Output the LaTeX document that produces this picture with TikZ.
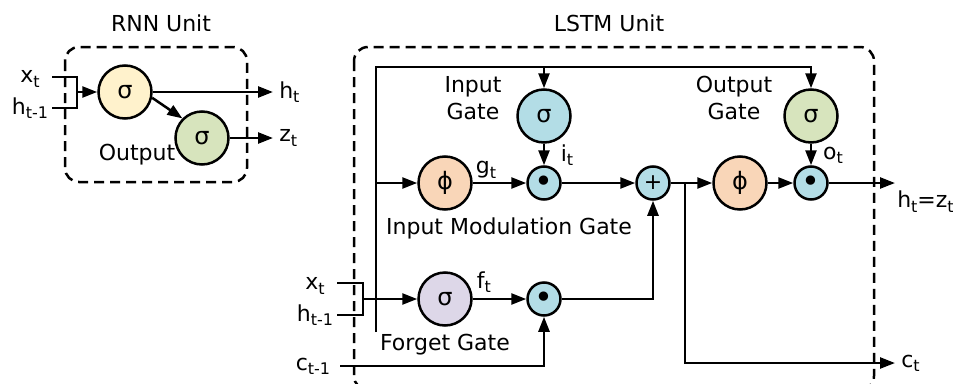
\documentclass[tikz,border=0pt]{standalone}
\usepackage{fontspec}
\setmainfont{DejaVu Sans}
\usetikzlibrary{arrows.meta, positioning}
\definecolor{SigYellow}{HTML}{FFF2CC}
\definecolor{SigGreen}{HTML}{D7E4BD}
\definecolor{GateBlue}{HTML}{B3DDE6}
\definecolor{PhiOrange}{HTML}{F9D6B8}
\definecolor{SigPurple}{HTML}{DDD7E8}
\newcommand{\lowsub}[1]{\raisebox{-0.35ex}{\fontsize{16}{16}\selectfont #1}}

\begin{document}
\begin{tikzpicture}[x=1pt, y=-1pt, line width=2.5pt,
    font=\fontsize{22}{27}\selectfont,
    bigcirc/.style={circle, draw, minimum size=53pt, inner sep=0pt, font=\fontsize{24}{24}\selectfont},
    opcirc/.style={circle, draw, fill=GateBlue, minimum size=33pt, inner sep=0pt},
    dotop/.style={opcirc, font=\fontsize{32}{32}\selectfont, text height=19.5pt, text depth=-9pt},
    unitbox/.style={draw, dash pattern=on 10pt off 6pt, rounded corners=14pt},
    arr/.style={-{Triangle[length=15pt,width=11pt]}},
    lbl/.style={inner sep=0pt, align=center}]
    \useasboundingbox (0,0) rectangle (953,383);

    % RNN unit
    \node[lbl] (rnnt) at (161,23) {RNN Unit};
    \draw[unitbox] (65,47) rectangle (247,182);
    \node[bigcirc, fill=SigYellow] (rs) at (125,92) {σ};
    \node[bigcirc, fill=SigGreen] (ro) at (202,138) {σ};
    \node[lbl] (rx) at (30,79) {x\lowsub{t}};
    \node[lbl] (rh) at (30,108) {h\lowsub{t-1}};
    \node[lbl] (rout) at (137,155) {Output};
    \coordinate (rxa) at (52,77);
    \coordinate (rha) at (52,108);
    \coordinate (rin) at (77,92);
    \coordinate (rht) at (273,92);
    \coordinate (rzt) at (273,138);
    \node[lbl, right=5pt of rht] (rhl) {h\lowsub{t}};
    \node[lbl, right=5pt of rzt] (rzl) {z\lowsub{t}};
    \draw (rxa) -| (rin) |- (rha);
    \draw[arr] (rin) -- (rs);
    \draw[arr] (rs) -- (rht);
    \draw[arr] (rs.-12) -- (ro.135);
    \draw[arr] (ro) -- (rzt);

    % LSTM unit
    \node[lbl] (lstmt) at (609,23) {LSTM Unit};
    \draw[unitbox] (354,47) rectangle (874,390);
    \node[bigcirc, fill=PhiOrange] (gphi) at (445,183) {ϕ};
    \node[dotop] (mi) at (544,183) {•};
    \node[bigcirc, fill=GateBlue] (ig) at (544,116) {σ};
    \node[opcirc] (add) at (653,183) {+};
    \node[bigcirc, fill=PhiOrange] (cphi) at (740,183) {ϕ};
    \node[dotop] (mo) at (811,183) {•};
    \node[bigcirc, fill=SigGreen] (og) at (811,116) {σ};
    \node[bigcirc, fill=SigPurple] (fg) at (445,299) {σ};
    \node[dotop] (mf) at (544,299) {•};

    % labels
    \node[lbl] (igl) at (473,98) {Input\\Gate};
    \node[lbl] (ogl) at (734,98) {Output\\Gate};
    \node[lbl] (gtl) at (486,170) {g\lowsub{t}};
    \node[lbl] (itl) at (567,155) {i\lowsub{t}};
    \node[lbl] (otl) at (833,155) {o\lowsub{t}};
    \node[lbl] (ftl) at (484,282) {f\lowsub{t}};
    \node[lbl] (iml) at (509,228) {Input Modulation Gate};
    \node[lbl] (fgl) at (445,345) {Forget Gate};
    \node[lbl] (lx) at (315,286) {x\lowsub{t}};
    \node[lbl] (lh) at (315,315) {h\lowsub{t-1}};
    \node[lbl] (lc) at (313,366) {c\lowsub{t-1}};

    \coordinate (ltop) at (376,67);
    \coordinate (lbot) at (376,332);
    \coordinate (lxa) at (337,283);
    \coordinate (lha) at (337,315);
    \coordinate (fin) at (363,299);
    \coordinate (cin) at (340,366);
    \coordinate (split) at (685,183);
    \coordinate (hout) at (895,183);
    \coordinate (cout) at (895,363);
    \node[lbl, anchor=north west] (hzl) at (896,190) {h\lowsub{t}=z\lowsub{t}};
    \node[lbl, right=5pt of cout] (ctl) {c\lowsub{t}};

    % connectors
    \draw[arr] (lbot) -- (ltop) -| (og.north);
    \draw[arr] (ig.north |- ltop) -- (ig.north);
    \draw[arr] (ltop |- gphi) -- (gphi);
    \draw[arr] (gphi) -- (mi);
    \draw[arr] (ig) -- (mi);
    \draw[arr] (mi) -- (add);
    \draw[arr] (add) -- (cphi);
    \draw[arr] (cphi) -- (mo);
    \draw[arr] (og) -- (mo);
    \draw[arr] (mo) -- (hout);
    \draw[arr] (split) |- (cout);
    \draw (lxa) -| (fin) |- (lha);
    \draw[arr] (fin) -- (fg);
    \draw[arr] (fg) -- (mf);
    \draw[arr] (mf) -| (add);
    \draw[arr] (cin) -| (mf);
\end{tikzpicture}
\end{document}
